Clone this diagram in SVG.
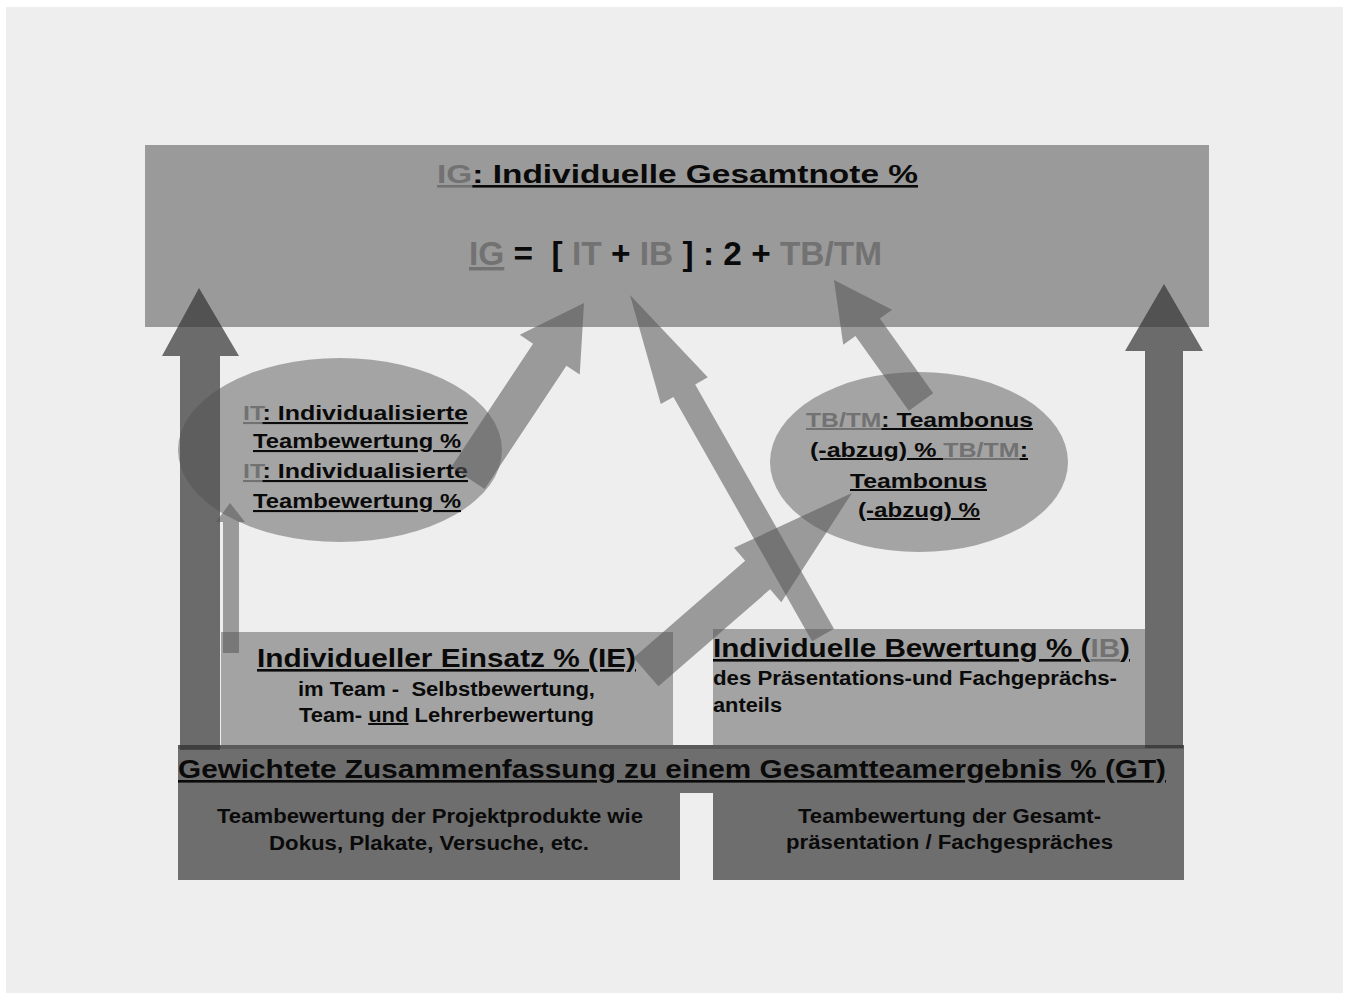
<svg xmlns="http://www.w3.org/2000/svg" width="1348" height="997" viewBox="0 0 1348 997">
<style>
text{font-family:"Liberation Sans",Arial,sans-serif;font-weight:bold;fill:#0a0a0a}
.g{fill:#727272}
.u{text-decoration:underline}
.big{fill:#333;fill-opacity:0.7}
.diag{fill:#555;fill-opacity:0.55}
.ell{fill:#505050;fill-opacity:0.47}
</style>
<rect x="0" y="0" width="1348" height="997" fill="#ffffff"/>
<rect x="6" y="7" width="1337" height="986" fill="#eeeeee"/>

<g id="top-box">
<rect x="145" y="145" width="1064" height="182" fill="#9a9a9a"/>
<text x="437" y="183" font-size="26" textLength="481" lengthAdjust="spacingAndGlyphs"><tspan class="g u">IG</tspan><tspan class="u">: Individuelle Gesamtnote %</tspan></text>
<text x="469" y="265" font-size="34" textLength="413" lengthAdjust="spacingAndGlyphs" xml:space="preserve"><tspan class="g u">IG</tspan><tspan> =  [ </tspan><tspan class="g">IT</tspan><tspan> + </tspan><tspan class="g">IB</tspan><tspan> ] : 2 + </tspan><tspan class="g">TB/TM</tspan></text>
</g>

<g id="gt-bar">
<rect x="178" y="745" width="1006" height="48" fill="#6e6e6e"/>
<rect x="178" y="745" width="1006" height="4" fill="#5a5a5a"/>
<text x="178" y="778" font-size="26" textLength="988" lengthAdjust="spacingAndGlyphs" class="u">Gewichtete Zusammenfassung zu einem Gesamtteamergebnis % (GT)</text>
</g>

<g id="box-produkte">
<rect x="178" y="793" width="502" height="87" fill="#6e6e6e"/>
<text x="217" y="823" font-size="20" textLength="426" lengthAdjust="spacingAndGlyphs">Teambewertung der Projektprodukte wie</text>
<text x="269" y="850" font-size="20" textLength="320" lengthAdjust="spacingAndGlyphs">Dokus, Plakate, Versuche, etc.</text>
</g>

<g id="box-praesentation">
<rect x="713" y="793" width="471" height="87" fill="#6e6e6e"/>
<text x="798" y="823" font-size="20" textLength="303" lengthAdjust="spacingAndGlyphs">Teambewertung der Gesamt-</text>
<text x="786" y="849" font-size="20" textLength="327" lengthAdjust="spacingAndGlyphs">präsentation / Fachgespräches</text>
</g>

<g id="box-ie">
<rect x="221" y="632" width="452" height="113" fill="#a3a3a3"/>
<text x="257" y="667" font-size="26" textLength="379" lengthAdjust="spacingAndGlyphs" class="u">Individueller Einsatz % (IE)</text>
<text x="298" y="696" font-size="20" textLength="297" lengthAdjust="spacingAndGlyphs" xml:space="preserve">im Team -  Selbstbewertung,</text>
<text x="299" y="722" font-size="20" textLength="295" lengthAdjust="spacingAndGlyphs" xml:space="preserve"><tspan>Team- </tspan><tspan class="u">und</tspan><tspan> Lehrerbewertung</tspan></text>
</g>

<g id="box-ib">
<rect x="713" y="629" width="432" height="116" fill="#a3a3a3"/>
<text x="713" y="657" font-size="26" textLength="417" lengthAdjust="spacingAndGlyphs"><tspan class="u">Individuelle Bewertung % (</tspan><tspan class="g u">IB</tspan><tspan class="u">)</tspan></text>
<text x="713" y="685" font-size="20" textLength="404" lengthAdjust="spacingAndGlyphs">des Präsentations-und Fachgeprächs-</text>
<text x="713" y="712" font-size="20" textLength="69" lengthAdjust="spacingAndGlyphs">anteils</text>
</g>

<g id="connectors">
<polygon class="big" points="180,750 180,356 162,356 199,288 239,356 220,356 220,750"/>
<polygon class="big" points="1145,748 1145,351 1125,351 1164,284 1203,351 1183,351 1183,748"/>
</g>

<g id="ellipse-it">
<ellipse class="ell" cx="340" cy="450" rx="162" ry="92"/>
<text x="243" y="420" font-size="21" textLength="225" lengthAdjust="spacingAndGlyphs"><tspan class="g u">IT</tspan><tspan class="u">: Individualisierte</tspan></text>
<text x="253" y="448" font-size="21" textLength="208" lengthAdjust="spacingAndGlyphs" class="u">Teambewertung %</text>
<text x="243" y="478" font-size="21" textLength="225" lengthAdjust="spacingAndGlyphs"><tspan class="g u">IT</tspan><tspan class="u">: Individualisierte</tspan></text>
<text x="253" y="508" font-size="21" textLength="208" lengthAdjust="spacingAndGlyphs" class="u">Teambewertung %</text>
</g>

<g id="ellipse-tb">
<ellipse class="ell" cx="919" cy="462" rx="149" ry="90"/>
<text x="806" y="427" font-size="20" textLength="227" lengthAdjust="spacingAndGlyphs"><tspan class="g u">TB/TM</tspan><tspan class="u">: Teambonus</tspan></text>
<text x="810" y="457" font-size="20" textLength="218" lengthAdjust="spacingAndGlyphs" xml:space="preserve"><tspan class="u">(-abzug) % </tspan><tspan class="g u">TB/TM</tspan><tspan class="u">:</tspan></text>
<text x="850" y="488" font-size="20" textLength="137" lengthAdjust="spacingAndGlyphs" class="u">Teambonus</text>
<text x="858" y="517" font-size="20" textLength="122" lengthAdjust="spacingAndGlyphs" class="u">(-abzug) %</text>
</g>

<g id="connectors-diagonal">
<polygon class="diag" points="223,653 223,522 216,522 230,503 245,522 239,522 239,653"/>
<polygon class="diag" points="484.67,489.05 566.41,365.73 579.75,374.57 584,303 519.73,334.79 533.07,343.63 451.33,466.95"/>
<polygon class="diag" points="833.9,628.8 695.2,384.5 707.78,377.34 630,295 660.82,404 673.4,396.9 812.1,641.2"/>
<polygon class="diag" points="658.46,686.34 770.1,589.33 781.25,602.17 852,493 734.03,547.81 745.18,560.65 633.54,657.66"/>
<polygon class="diag" points="933.21,393.29 879.88,318.51 892.1,309.8 834,280 843.24,344.64 855.46,335.93 908.79,410.71"/>
</g>
</svg>
